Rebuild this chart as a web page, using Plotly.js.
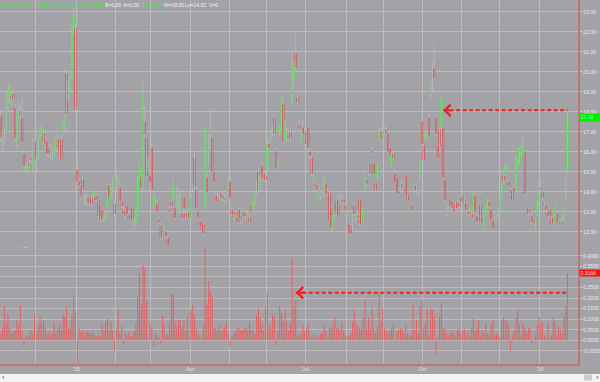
<!DOCTYPE html>
<html>
<head>
<meta charset="utf-8">
<script src="https://cdn.plot.ly/plotly-3.0.1.min.js"></script>
<style>html,body{margin:0;padding:0;background:#a3a3a7;}#chart{width:600px;height:382px;}</style>
</head>
<body>
<div id="chart"></div>
<script>
// ---- data (daily candles, weekdays from 2014-11-03) ----
const openP = [
17.8,16.1,16.6,17.0,18.2,18.6,18.8,18.9,18.2,16.4,
17.7,18.0,17.7,15.9,15.0,15.1,15.4,15.7,15.1,16.5,
15.1,15.7,16.6,16.8,16.9,16.6,16.5,16.2,15.7,15.7,
15.8,16.1,16.6,16.3,16.6,16.9,17.2,19.9,18.6,19.1,
19.7,22.1,22.2,15.1,14.5,14.3,14.6,13.4,13.5,13.7,
13.6,13.7,13.7,13.7,13.8,13.6,13.3,13.1,12.6,12.6,
13.3,14.3,13.7,14.0,13.4,14.2,14.4,14.2,13.5,13.1,
13.0,13.3,12.8,12.9,13.2,12.3,12.5,12.9,14.6,14.7,
14.2,17.5,16.7,15.2,14.8,16.2,13.3,13.5,13.4,12.6,
12.3,12.0,11.9,12.0,11.7,13.1,13.5,13.6,13.2,13.0,
13.2,12.9,12.9,13.7,12.9,12.9,13.0,12.6,14.1,15.7,
14.1,13.0,12.5,12.5,12.4,13.2,14.7,15.4,16.2,16.7,
15.0,13.8,13.7,13.6,13.9,13.8,13.7,13.6,13.9,14.5,
13.1,13.0,12.6,12.7,13.1,12.8,12.5,13.0,12.9,12.8,
12.7,13.3,13.1,13.4,13.9,15.0,14.1,15.3,14.9,14.8,
15.1,16.4,16.6,16.9,17.7,16.0,15.3,16.9,17.1,18.4,
16.6,16.6,16.9,17.0,18.4,19.6,20.9,18.7,17.3,16.6,
17.2,17.0,16.9,17.2,16.0,15.7,14.6,14.4,14.3,13.6,
13.9,13.8,13.9,14.4,14.0,13.9,13.2,12.2,12.6,13.5,
13.6,13.4,13.6,13.6,13.3,12.9,12.4,12.3,12.1,13.3,
12.6,12.8,13.6,12.9,12.5,14.2,14.6,14.9,15.4,16.05,
15.4,14.4,14.7,16.6,17.0,16.7,17.0,17.1,16.9,16.2,
15.4,15.9,14.9,14.7,14.0,14.2,14.4,14.3,14.8,13.8,
13.0,13.3,14.2,14.3,14.2,13.9,14.7,17.5,16.3,16.6,
16.7,17.7,18.7,19.1,20.2,17.7,16.3,17.1,17.2,17.2,
14.6,12.9,13.2,13.6,13.5,13.3,13.4,13.5,13.4,13.7,
13.8,13.6,13.4,13.0,13.0,12.9,12.9,13.8,12.8,12.7,
13.3,12.7,12.2,12.9,13.3,13.5,13.1,12.6,12.5,12.7,
12.9,13.1,13.9,14.8,14.9,15.1,14.5,14.1,14.0,14.2,
14.1,15.3,15.5,15.8,15.9,16.0,13.7,13.2,13.1,12.8,
12.6,12.3,12.9,13.6,14.2,14.0,13.4,13.3,13.0,13.1,
12.6,12.7,12.4,12.9,12.3,12.5,12.6,12.6,13.65,15.0];
const highP = [
18.0,17.0,17.3,19.0,19.3,19.5,19.0,19.1,18.4,18.2,
18.6,18.3,18.7,16.1,15.4,15.5,15.6,15.9,16.7,16.6,
15.8,16.8,17.2,17.4,17.1,16.8,16.6,16.4,16.4,16.2,
16.5,16.8,16.9,16.5,16.8,17.6,17.9,20.1,19.8,20.0,
22.4,23.3,22.4,15.9,14.7,14.4,14.8,13.9,13.9,13.8,
13.7,13.8,14.1,13.9,13.9,13.7,13.4,13.2,12.9,13.0,
13.9,14.5,14.4,14.7,13.5,14.9,14.8,14.3,13.6,13.3,
13.2,13.4,13.0,13.0,13.3,12.7,13.0,14.8,15.4,14.9,
19.5,18.3,16.8,15.8,15.0,16.4,13.9,13.8,13.6,12.8,
12.5,12.1,12.4,12.1,11.8,13.3,13.7,14.6,13.3,14.2,
13.9,14.0,13.0,13.8,13.0,13.1,13.2,13.8,14.4,16.0,
14.3,13.1,12.6,12.6,12.5,17.3,15.0,16.9,18.2,16.9,
15.1,14.0,13.9,13.9,14.0,14.1,13.9,14.0,14.8,14.7,
13.2,13.1,12.9,12.8,13.2,12.9,12.8,13.1,13.0,13.1,
12.8,13.4,13.6,14.0,14.6,15.2,14.9,15.5,15.0,15.0,
16.6,16.6,17.1,17.4,17.9,16.2,15.7,17.4,18.8,18.6,
17.6,17.2,17.1,17.3,21.0,20.5,22.0,18.9,17.6,17.1,
17.6,17.2,17.0,17.3,16.2,15.8,14.9,14.5,14.4,14.3,
14.0,14.1,14.8,14.5,14.2,14.0,13.3,12.9,13.0,13.6,
13.9,13.9,13.8,13.7,13.4,13.1,12.5,12.4,12.9,13.4,
12.9,13.0,13.7,13.0,13.2,14.9,14.7,15.3,15.5,16.3,
15.5,14.5,15.4,17.2,17.2,17.8,17.3,17.2,17.0,16.3,
16.0,16.0,15.0,14.8,14.2,14.5,14.5,14.6,14.9,13.9,
13.2,13.4,14.5,14.4,14.3,14.2,15.6,17.7,16.4,17.0,
17.1,17.9,19.5,20.5,21.4,17.8,16.4,17.3,18.8,17.3,
14.7,13.4,13.5,13.7,13.6,13.4,13.5,13.6,13.6,13.8,
13.9,13.8,13.5,13.1,13.2,13.0,14.0,13.9,12.9,12.9,
13.4,12.8,12.8,13.4,13.7,13.6,13.2,12.7,12.8,12.9,
13.2,13.7,14.4,14.9,15.3,15.4,14.6,14.2,14.1,14.3,
15.8,15.8,16.2,16.4,16.7,16.1,14.0,13.3,13.2,12.9,
12.7,12.6,13.6,14.0,14.6,14.1,13.5,13.4,13.1,13.2,
12.7,12.8,13.4,13.0,12.6,12.6,12.9,12.9,14.7,18.0];
const lowP = [
16.5,15.9,16.4,16.9,18.0,18.4,18.3,18.5,16.5,16.1,
17.5,17.6,16.4,15.1,14.9,14.9,15.2,15.4,15.0,15.4,
14.9,15.6,16.5,16.7,16.4,16.2,15.8,15.7,15.6,15.5,
15.7,16.0,16.0,15.7,15.5,16.8,17.0,17.8,18.4,19.0,
19.6,21.8,18.0,14.4,14.2,13.6,14.0,13.3,13.4,13.3,
13.3,13.2,13.6,13.5,13.4,12.6,12.5,12.5,12.5,12.5,
13.2,13.6,13.6,13.9,12.8,14.1,14.3,13.4,13.1,12.8,
12.7,12.8,12.5,12.6,12.5,11.9,12.3,12.8,14.5,14.1,
14.1,16.8,14.7,15.0,14.4,14.0,13.2,13.3,12.9,12.4,
11.6,11.6,11.8,11.6,11.2,12.9,13.2,13.5,12.6,12.9,
12.9,12.8,12.6,13.1,12.6,12.6,12.6,12.5,14.0,14.1,
13.1,12.6,12.2,12.0,11.8,13.1,13.9,15.3,16.1,14.9,
14.3,13.4,13.4,13.5,13.6,13.5,13.4,13.5,13.8,13.6,
12.8,12.6,12.5,12.4,12.6,12.4,12.4,12.7,12.6,12.7,
12.4,12.9,13.0,13.3,13.8,14.0,14.0,14.6,14.5,14.5,
15.0,16.0,16.5,16.8,16.8,15.1,15.2,16.8,17.0,16.4,
16.5,16.5,16.5,16.5,18.3,19.4,20.0,18.3,17.0,16.5,
16.8,16.6,16.3,16.1,15.6,14.8,14.5,14.2,14.0,13.5,
13.6,13.7,13.8,13.8,13.8,12.5,12.0,12.0,12.5,12.8,
12.7,13.3,13.4,13.3,13.0,12.8,11.8,11.8,12.0,12.8,
12.5,12.6,12.3,12.3,12.4,14.1,14.3,14.8,14.8,15.8,
14.8,14.0,14.6,16.5,16.5,16.6,16.8,16.8,15.9,15.7,
15.3,15.6,14.4,13.8,13.8,14.1,14.1,14.2,13.7,13.5,
12.9,13.0,14.1,14.0,13.9,13.8,14.6,16.3,15.5,16.5,
16.6,16.7,18.6,19.0,19.6,16.8,15.6,16.2,16.4,14.6,
13.5,12.7,13.1,13.2,13.1,12.9,13.1,13.1,13.2,13.4,
13.5,13.4,13.0,12.8,12.8,12.6,12.8,12.9,12.4,12.5,
12.4,12.3,12.0,12.8,13.2,13.2,12.5,12.1,12.4,12.6,
12.8,13.0,13.8,14.5,14.8,15.0,14.2,13.8,13.5,13.9,
14.0,15.2,15.4,15.7,15.8,13.8,13.6,12.8,12.8,12.4,
12.3,11.9,12.8,13.5,14.0,13.6,13.2,13.0,12.7,12.7,
12.3,12.4,12.3,12.2,12.2,12.3,12.5,12.5,13.5,14.92];
const closeP = [
16.7,16.8,17.1,18.3,19.1,19.2,18.6,18.7,16.7,18.0,
18.1,17.8,16.5,15.3,15.2,15.3,15.3,15.6,16.0,15.6,
15.6,16.6,16.9,17.2,16.6,16.4,15.9,15.9,16.2,16.0,
16.3,16.6,16.2,15.9,15.6,17.4,17.7,17.9,19.6,19.7,
22.2,22.8,18.1,14.5,14.3,13.8,14.1,13.7,13.7,13.5,
13.4,13.4,14.0,13.6,13.6,12.8,12.6,12.6,12.7,12.8,
13.7,13.7,14.2,14.5,12.9,14.7,14.6,13.5,13.3,12.9,
12.8,12.9,12.6,12.7,12.6,12.6,12.9,14.7,15.2,14.2,
19.0,16.9,14.8,15.5,14.5,14.1,13.7,13.6,13.0,12.5,
11.7,11.8,12.2,11.8,11.35,13.0,13.3,14.4,12.7,14.0,
13.7,13.8,12.7,13.2,12.7,12.8,12.7,13.7,14.2,14.2,
13.2,12.7,12.3,12.1,11.9,17.2,14.0,16.6,17.6,15.0,
14.5,13.5,13.5,13.7,13.7,13.7,13.6,13.8,14.6,13.7,
12.9,12.7,12.8,12.5,12.7,12.5,12.7,12.8,12.8,13.0,
12.5,13.0,13.5,13.9,14.5,14.1,14.8,14.7,14.6,14.6,
16.4,16.2,16.9,17.2,16.9,15.2,15.5,17.2,18.6,16.5,
17.4,17.0,16.6,16.7,20.5,20.2,20.2,18.5,17.2,16.9,
16.9,16.8,16.4,16.2,15.8,14.9,14.7,14.3,14.1,14.1,
13.8,13.9,14.6,13.9,13.9,12.6,12.2,12.8,12.9,12.9,
12.8,13.5,13.5,13.5,13.1,13.0,11.9,11.9,12.8,12.9,
12.8,12.7,12.4,12.4,13.1,14.7,14.4,15.2,14.9,15.95,
14.9,14.1,15.3,17.0,16.6,17.1,17.1,16.9,16.0,15.8,
15.9,15.7,14.5,13.9,13.9,14.4,14.2,14.5,13.8,13.6,
13.1,13.1,14.4,14.1,14.1,14.1,15.5,16.4,15.6,16.9,
16.9,16.8,19.3,20.3,19.7,16.9,15.7,16.3,18.7,14.7,
13.6,13.3,13.4,13.3,13.2,13.0,13.2,13.2,13.3,13.5,
13.6,13.5,13.1,12.9,12.9,12.7,13.9,13.0,12.5,12.6,
12.5,12.4,12.7,13.3,13.6,13.3,12.6,12.2,12.6,12.8,
13.1,13.6,14.3,14.6,15.2,15.3,14.3,13.9,13.6,14.0,
15.7,15.7,16.1,16.3,16.3,13.9,13.9,12.9,13.0,12.5,
12.4,12.5,13.5,13.9,14.1,13.7,13.3,13.1,12.8,12.8,
12.4,12.5,13.3,12.3,12.5,12.4,12.8,12.75,13.75,17.70];
const indicator = [
.04,.061,.16,.08,.12,.056,.03,.04,.048,.096,
.07,.163,.04,-.029,.024,.016,.024,.048,.03,.125,
.032,.067,.112,.08,.096,.064,.032,.04,.016,.03,
.083,.032,.056,.08,.05,.12,.112,.16,.056,.056,
.115,.208,.136,-.112,.056,.04,.048,.024,.04,.04,
.032,.03,.04,.024,.02,.024,.016,.077,.048,.088,
.104,.04,.088,.048,-.048,.05,.152,.032,.067,-.016,
.04,.024,.04,.016,.02,.04,.08,.208,.312,.16,
.355,.344,.184,.005,.08,.056,-.029,.032,.024,.016,
-.016,.115,.072,.024,.03,.08,.216,.221,.088,.064,
.096,.096,.064,.096,.04,.115,.016,.144,.168,.12,
.056,.032,.024,.008,.072,.435,.168,.28,.232,.208,
.056,.064,.048,.072,.04,.056,.064,.08,.032,-.032,
.016,.032,.04,.056,.064,.048,.048,.056,.064,.05,
.088,.048,.056,.032,.115,.152,.104,.08,.048,.152,
.221,.072,.06,.12,.112,-.024,.048,.16,.128,.088,
.144,.088,.048,.08,.384,.152,.19,.024,.016,.03,
.072,.04,.056,.08,.024,.016,.03,.008,.024,.016,
.03,.032,.072,.04,.008,.056,.061,.064,.112,.056,
.056,.051,.083,.048,.024,.016,.02,.032,.088,.144,
.08,.064,.056,.051,.104,.192,.056,.104,.056,.152,
.056,.032,.064,.224,.088,.152,.056,.048,.032,.048,
.06,.072,-.004,.04,.05,.056,.051,.035,.072,.032,
.016,.024,.168,.048,.096,.032,.16,.192,.064,.08,
.152,.024,.152,.144,.112,-.064,.016,.112,.176,.056,
.056,.032,.024,.03,.048,.032,.016,.048,.056,.032,
.048,.051,.024,.048,.024,.056,.104,.048,.064,.096,
.024,.048,.032,.08,.032,.024,.072,.096,.024,.032,
.024,.016,.096,.104,.096,.088,.072,-.048,.024,.048,
.104,.144,.072,.024,.08,.056,.032,.064,.056,-.016,
.008,.024,.072,.112,.088,.08,.024,.008,.08,.016,
.024,.112,.088,.024,.064,.056,.032,.112,.16,.3168];
const quarterLabels = ["'15", "Apr", "Jul", "Oct", "'16"];
const priceTicksStep = 1;
const lowerTicks = [-0.05, 0, 0.05, 0.10, 0.15, 0.20, 0.25, 0.30, 0.35, 0.40];
const lastPriceText = "17.70";
const lastIndText = "0.3168";
const upperArrowLevel = 18.07, upperArrowFrom = 249;
const lowerArrowLevel = 0.225, lowerArrowFrom = 166;

// ---- build ----
const N = openP.length;
const dates = [];
(function(){
  let t = Date.UTC(2014, 10, 3);
  while (dates.length < N) {
    const d = new Date(t), wd = d.getUTCDay();
    if (wd !== 0 && wd !== 6) dates.push(d.toISOString().slice(0,10) + ' 12:00');
    t += 86400000;
  }
})();
const tickvals = [], ticktext = [];
let q = 0;
for (let i = 1; i < N; i++) {
  if (dates[i].slice(5,7) !== dates[i-1].slice(5,7)) {
    tickvals.push(dates[i].slice(0,10));
    const m = +dates[i].slice(5,7);
    ticktext.push((m - 1) % 3 === 0 ? quarterLabels[q++] : '');
  }
}
const wx = [], wy = [];
for (let i = 0; i < N; i++) { wx.push(dates[i], dates[i], null); wy.push(lowP[i], highP[i], null); }
const GREEN = '#3ee83e', RED = '#e43030';
const base = openP.map((v,i)=>Math.min(v, closeP[i]));
const hgt = openP.map((v,i)=>Math.max(Math.abs(closeP[i]-v), 0.06));
const cols = openP.map((v,i)=> closeP[i] >= v ? GREEN : RED);
const DAY = 86400000;

const traces = [
  {type:'scatter', mode:'lines', x:wx, y:wy, xaxis:'x', yaxis:'y',
   line:{color:'#b4b4b8', width:1}, hoverinfo:'skip', connectgaps:false},
  {type:'bar', x:dates, y:hgt, base:base, xaxis:'x', yaxis:'y', width:1.12*DAY,
   marker:{color:cols, line:{width:0}}},
  {type:'bar', x:dates, y:indicator, xaxis:'x', yaxis:'y2', width:0.6*DAY,
   marker:{color:'#e06464', line:{width:0}}}
];

const H = 365, W = 579;
const FONT = 'Liberation Sans, Arial, sans-serif';
const GRID = '#bdbdc1';
const hdr = [
  ['BVOLS', 0, '#3ce63c'], ['1day', 19, '#3ce63c'], ['+BBB', 35, '#3ce63c'],
  ['L=17.70', 49, '#3ce63c'], ['+3.06', 70, '#3ce63c'], ['+20.88%', 84, '#3ce63c'],
  ['B=0.00', 104, '#f0f0f0'], ['A=0.00', 122, '#f0f0f0'], ['O=15.00', 142, '#3ce63c'],
  ['Hi=18.00', 163, '#f0f0f0'], ['Lo=14.92', 184, '#f0f0f0'], ['V=0', 208, '#f0f0f0']
];
const annotations = hdr.map(h => ({
  text: h[0], xref:'paper', yref:'paper', x: h[1]/W, y: 1 - 4.5/H,
  xanchor:'left', yanchor:'middle', showarrow:false, borderpad:0,
  font:{family:FONT, size:5, color:h[2]}
}));
annotations.push(
  {text:'‐ ·    · ·   ‐‐', xref:'paper', yref:'paper', x:6/W, y:1-247/H, xanchor:'left', yanchor:'middle',
   showarrow:false, borderpad:0, font:{family:FONT, size:4.5, color:'#f4f4f4'}},
  {text:lastPriceText, xref:'paper', yref:'y', x:1, y:closeP[N-1], xanchor:'left', yanchor:'middle',
   showarrow:false, bgcolor:'#00ee00', borderpad:0.5, width:20, height:5.5, align:'left',
   font:{family:FONT, size:5, color:'#c8ffc8'}},
  {text:lastIndText, xref:'paper', yref:'y2', x:1, y:indicator[N-1], xanchor:'left', yanchor:'middle',
   showarrow:false, bgcolor:'#f41414', borderpad:0.5, width:20, height:5, align:'left',
   font:{family:FONT, size:5, color:'#ffd6d6'}},
  {text:'', xref:'x', yref:'y', x:dates[upperArrowFrom], y:upperArrowLevel, showarrow:true,
   ax:10, ay:0, arrowhead:4, arrowsize:1.1, arrowwidth:2, arrowcolor:'#f02020', standoff:0},
  {text:'', xref:'x', yref:'y2', x:dates[lowerArrowFrom], y:lowerArrowLevel, showarrow:true,
   ax:10, ay:0, arrowhead:4, arrowsize:1.1, arrowwidth:2, arrowcolor:'#f02020', standoff:0},
  {text:'‹', xref:'paper', yref:'paper', x:3/W, y:-12.5/H, xanchor:'center', yanchor:'middle',
   showarrow:false, borderpad:0, font:{family:FONT, size:7, color:'#333'}},
  {text:'›', xref:'paper', yref:'paper', x:597/W, y:-12.5/H, xanchor:'center', yanchor:'middle',
   showarrow:false, borderpad:0, font:{family:FONT, size:7, color:'#333'}}
);
const shapes = [
  {type:'rect', xref:'paper', yref:'paper', x0:-0.01, x1:1.05, y0:-18/H, y1:-9/H,
   fillcolor:'#f3f3f3', line:{width:0}, layer:'above'},
  {type:'rect', xref:'paper', yref:'paper', x0:584/W, x1:592/W, y0:-15.5/H, y1:-9.5/H,
   fillcolor:'#cdcdcd', line:{width:0}, layer:'above'},
  {type:'line', xref:'paper', yref:'paper', x0:1, x1:1, y0:0, y1:1, line:{color:'#d04848', width:1}, layer:'above'},
  {type:'line', xref:'paper', yref:'paper', x0:0, x1:1, y0:0, y1:0, line:{color:'#d04848', width:1}, layer:'above'},
  {type:'line', xref:'x', yref:'y', x0:dates[upperArrowFrom], x1:dates[N-1], y0:upperArrowLevel, y1:upperArrowLevel,
   line:{color:'#f02020', width:2, dash:'4px,2.5px'}, layer:'above'},
  {type:'line', xref:'x', yref:'y2', x0:dates[lowerArrowFrom], x1:dates[N-1], y0:lowerArrowLevel, y1:lowerArrowLevel,
   line:{color:'#f02020', width:2, dash:'4px,2.5px'}, layer:'above'}
];
// the 0.3000 label sits under the last-value box in the reference
const lowerTickText = lowerTicks.map(v => Math.abs(v - indicator[N-1]) < 0.025 ? '' : v.toFixed(4));
const split = 120/H;
const layout = {
  width:600, height:382, autosize:false,
  margin:{l:0, r:21, t:0, b:17, pad:0},
  paper_bgcolor:'#a3a3a7', plot_bgcolor:'#a3a3a7',
  showlegend:false, hovermode:false, barmode:'overlay',
  font:{family:FONT, size:5.2, color:'#ececec'},
  xaxis:{type:'date', domain:[0,1], anchor:'y2',
    range:['2014-11-03','2016-02-02'], rangebreaks:[{bounds:['sat','mon']}],
    tickmode:'array', tickvals:tickvals, ticktext:ticktext,
    showgrid:true, gridcolor:GRID, gridwidth:1, ticks:'', zeroline:false, showline:false,
    tickfont:{family:FONT, size:5.3, color:'#e4e4e4'}, fixedrange:true},
  yaxis:{domain:[split,1], anchor:'x', side:'right', range:[11.335, 23.585],
    tick0:0, dtick:priceTicksStep, tickformat:'.2f',
    showgrid:true, gridcolor:GRID, gridwidth:1, zeroline:false, showline:false,
    ticks:'outside', ticklen:2, tickcolor:'#d4d4d4',
    tickfont:{family:FONT, size:5.2, color:'#ececec'}, fixedrange:true},
  yaxis2:{domain:[0,split], anchor:'x', side:'right', range:[-0.1168, 0.4506],
    tickmode:'array', tickvals:lowerTicks, ticktext:lowerTickText,
    showgrid:true, gridcolor:GRID, gridwidth:1, zeroline:false, showline:false,
    ticks:'outside', ticklen:2, tickcolor:'#d4d4d4',
    tickfont:{family:FONT, size:5.2, color:'#ececec'}, fixedrange:true},
  annotations:annotations, shapes:shapes
};
Plotly.newPlot('chart', traces, layout, {staticPlot:true, displayModeBar:false});
</script>
</body>
</html>
